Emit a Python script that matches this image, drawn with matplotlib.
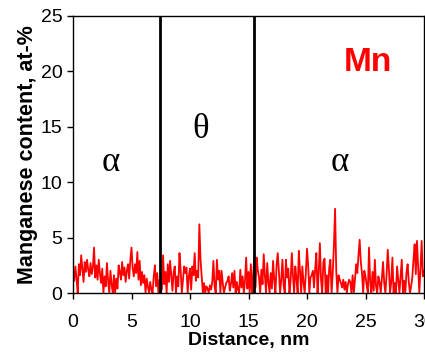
import numpy as np
import matplotlib
matplotlib.use("Agg")
import matplotlib.pyplot as plt

# Mn concentration profile across the alpha / theta / alpha interfaces
step_nm = 0.1
mn_content = [
    2.0, 1.1, 2.4, 1.3, 0.0, 2.6, 1.6, 3.4, 2.2, 1.0,
    2.8, 1.9, 3.0, 2.1, 1.5, 2.7, 1.7, 2.3, 4.1, 1.4,
    2.5, 1.2, 3.0, 1.8, 0.9, 2.2, 0.0, 1.5, 0.6, 2.7,
    1.1, 0.0, 2.0, 0.8, 0.0, 1.6, 0.0, 1.3, 0.4, 2.5,
    1.9, 1.2, 2.8, 1.6, 2.3, 1.0, 2.0, 2.6, 1.3, 3.0,
    4.1, 2.2, 1.5, 2.6, 1.8, 3.7, 1.2, 2.9, 0.7, 1.9,
    0.9, 1.6, 0.0, 1.3, 0.6, 0.0, 1.0, 0.3, 0.0, 1.5,
    2.5, 0.6, 1.8, 0.0, 1.2, 0.0, 0.4, 3.4, 0.8, 1.9,
    0.0, 2.6, 1.0, 2.9, 1.5, 0.2, 1.9, 2.4, 0.0, 1.5,
    0.6, 3.6, 2.1, 0.0, 1.2, 2.4, 1.8, 2.3, 0.0, 1.5,
    2.2, 0.3, 2.4, 1.6, 3.6, 1.1, 2.0, 1.4, 6.2, 3.0,
    1.5, 0.0, 0.9, 0.0, 0.6, 0.4, 0.0, 0.7, 0.3, 1.0,
    2.9, 0.6, 0.0, 3.0, 1.2, 2.0, 0.0, 2.0, 0.9, 0.0,
    0.5, 0.9, 1.1, 1.5, 0.2, 0.8, 1.8, 0.5, 2.0, 0.0,
    1.0, 0.3, 0.0, 2.1, 0.5, 1.5, 0.0, 1.1, 3.2, 0.4,
    1.9, 0.0, 2.6, 0.0, 1.5, 3.5, 0.5, 3.2, 2.0, 1.4,
    0.0, 2.1, 0.8, 3.5, 1.6, 0.0, 2.7, 1.0, 0.0, 1.8,
    0.4, 2.9, 1.2, 0.0, 2.5, 3.6, 1.9, 0.0, 1.2, 3.0,
    0.7, 0.0, 3.0, 1.4, 2.2, 0.0, 1.1, 3.6, 1.6, 0.0,
    2.4, 1.3, 0.0, 3.8, 2.0, 0.0, 2.4, 1.0, 0.0, 1.8,
    4.0, 2.5, 0.0, 1.4, 1.6, 2.0, 0.5, 2.2, 3.6, 0.0,
    1.8, 4.5, 1.2, 0.0, 2.8, 3.1, 0.0, 1.6, 0.0, 2.3,
    3.0, 0.0, 1.8, 4.3, 7.6, 2.0, 0.0, 1.6, 1.2, 0.9,
    0.5, 1.2, 0.3, 1.0, 0.0, 0.8, 1.2, 1.0, 0.0, 1.6,
    0.0, 1.2, 2.6, 1.8, 3.4, 4.8, 2.8, 1.8, 0.0, 2.0,
    1.5, 0.7, 0.0, 4.1, 1.0, 0.0, 1.9, 0.2, 3.0, 0.6,
    0.0, 1.5, 1.0, 0.0, 1.3, 2.8, 0.9, 0.0, 1.6, 3.9,
    2.2, 0.0, 1.0, 3.2, 0.0, 0.9, 0.0, 2.4, 1.2, 0.0,
    1.5, 3.0, 0.0, 1.1, 0.0, 1.8, 2.6, 1.0, 0.0, 0.6,
    1.4, 3.0, 4.4, 1.7, 4.7, 2.3, 0.0, 2.2, 4.7, 1.5,
    2.0,
]
distance = np.arange(len(mn_content)) * step_nm

interfaces_nm = [7.45, 15.5]
phase_labels = ["\u03b1", "\u03b8", "\u03b1"]
phase_x = [3.2, 10.9, 22.8]
phase_y = [11.8, 14.8, 11.8]

x_ticks = [0, 5, 10, 15, 20, 25, 30]
y_ticks = [0, 5, 10, 15, 20, 25]

plt.rcParams["font.family"] = ["Liberation Sans", "DejaVu Sans"]

fig = plt.figure(figsize=(4.25, 3.54), dpi=100)
ax = fig.add_axes([73 / 425, 1 - 293 / 354, 351 / 425, (293 - 16) / 354])

ax.plot(distance, mn_content, color="#ff0000", lw=1.3)
for xi in interfaces_nm:
    ax.axvline(xi, color="black", lw=2.0)

for lab, px, py in zip(phase_labels, phase_x, phase_y):
    ax.text(px, py, lab, fontsize=25, family="Liberation Serif",
            ha="center", va="center", color="black")
ax.text(25.2, 20.8, "Mn", fontsize=24, fontweight="bold", color="#ff0000",
        ha="center", va="center")

ax.set_xlim(0, 30)
ax.set_ylim(0, 25)
ax.set_xticks(x_ticks)
ax.set_yticks(y_ticks)
ax.tick_params(axis="both", direction="out", labelsize=14, length=4, width=1)
ax.tick_params(axis="x", pad=11)
ax.set_xlabel("Distance, nm", fontsize=14, fontweight="bold", labelpad=1)
ax.set_ylabel("Manganese content, at-%", fontsize=15.5, fontweight="bold", labelpad=2)
for sp in ax.spines.values():
    sp.set_linewidth(1.0)

fig.savefig("out.png", dpi=100)
